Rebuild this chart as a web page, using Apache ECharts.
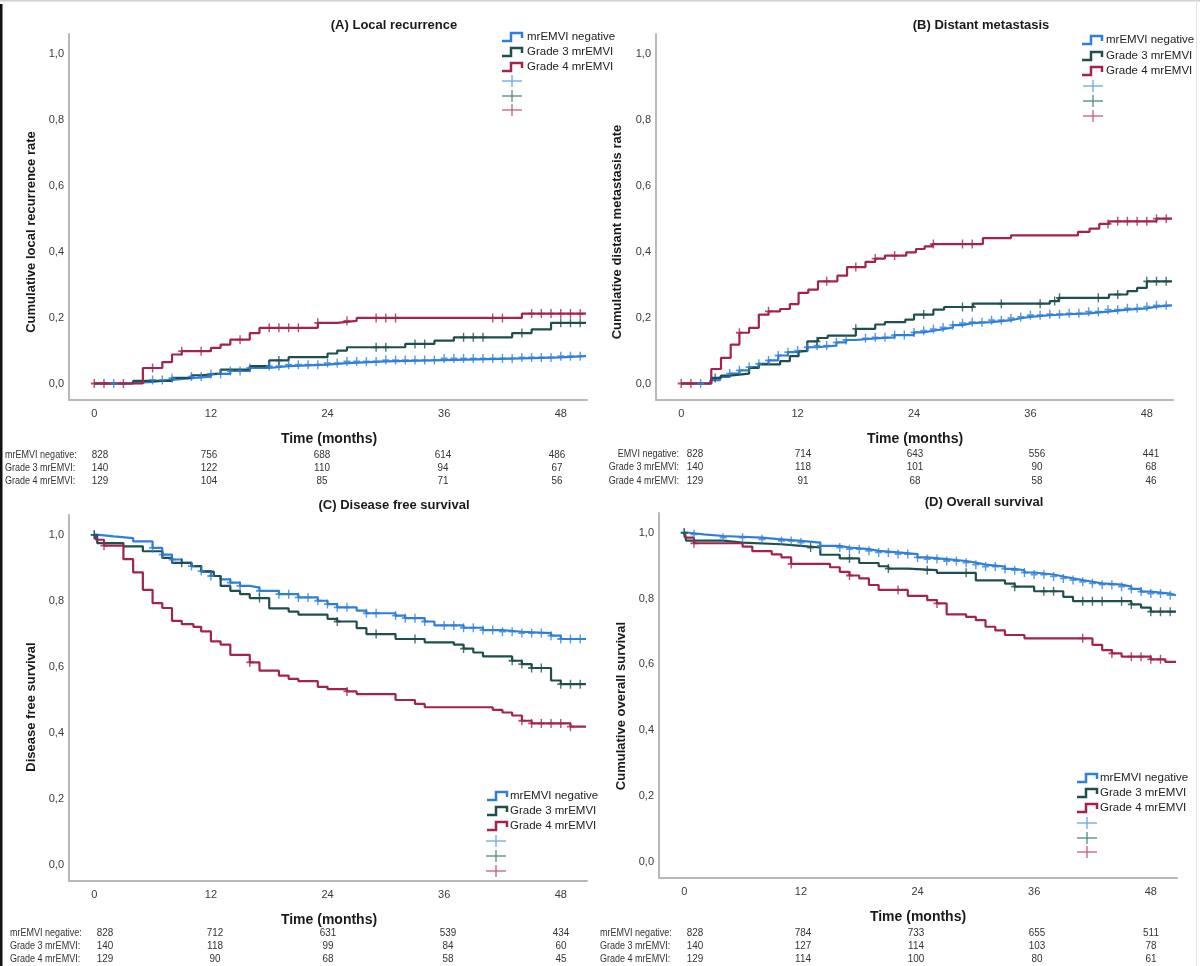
<!DOCTYPE html>
<html><head><meta charset="utf-8">
<script src="https://cdn.jsdelivr.net/npm/echarts@6/dist/echarts.min.js"></script>
<style>html,body{margin:0;padding:0;background:#fff}#c{width:1200px;height:966px}</style>
</head><body><div id="c"></div>
<script>
// ---------- data ----------
const timeTicks = [0, 12, 24, 36, 48];
const yTicks = [0, 0.2, 0.4, 0.6, 0.8, 1.0];
const groupNames = ['mrEMVI negative', 'Grade 3 mrEMVI', 'Grade 4 mrEMVI'];
const riskLabelsFull = ['mrEMVI negative:', 'Grade 3 mrEMVI:', 'Grade 4 mrEMVI:'];
const riskLabelsB = ['EMVI negative:', 'Grade 3 mrEMVI:', 'Grade 4 mrEMVI:'];
const panelTitles = ['(A) Local recurrence', '(B) Distant metastasis', '(C) Disease free survival', '(D) Overall survival'];
const yTitles = ['Cumulative local recurrence rate', 'Cumulative distant metastasis rate', 'Disease free survival', 'Cumulative overall survival'];
const xTitle = 'Time (months)';

// (A) Local recurrence: [month, value] steps
const A_neg = [[0,0],[3.5,0.005],[6,0.011],[8,0.016],[10,0.021],[12,0.029],[14,0.038],[16,0.047],[18,0.053],[20,0.057],[24,0.062],[26,0.067],[30,0.071],[36,0.076],[44,0.079],[48,0.083],[50.6,0.083]];
const A_g3 = [[0,0],[4,0.008],[8,0.017],[10,0.025],[11,0.03],[13,0.042],[16,0.053],[18,0.07],[20,0.08],[24,0.091],[25,0.1],[26,0.11],[32,0.12],[35,0.13],[37,0.14],[43,0.153],[45,0.164],[47,0.184],[50.6,0.184]];
const A_g4 = [[0,0],[5,0.047],[7,0.065],[8,0.088],[9,0.098],[12,0.108],[13,0.118],[14,0.133],[16,0.153],[17,0.169],[23,0.184],[25,0.19],[27,0.199],[44,0.212],[50.6,0.212]];
const A_negCens = [2,6,7,8,10,11,12,13,14,15,16,18,19,20,21,22,23,24,25,26,27,28,29,30,31,32,33,34,35,36,37,38,39,40,41,42,43,44,45,46,47,48,49,50];
const A_g3Cens = [19,29,30,33,34,38,39,40,44,48,49,50];
const A_g4Cens = [0,1,3,6,9,11,15,18,19,20,21,23,26,29,30,31,41,42,45,46,47,48,49,50];
const A_risk = [[828,756,688,614,486],[140,122,110,94,67],[129,104,85,71,56]];

// (B) Distant metastasis
const B_neg = [[0,0],[3,0.01],[4,0.02],[5,0.03],[6,0.04],[7,0.05],[8,0.06],[9,0.07],[10,0.085],[11,0.095],[12,0.1],[13,0.11],[14,0.115],[16,0.125],[17,0.132],[18,0.137],[20,0.14],[22,0.147],[24,0.155],[25,0.16],[26,0.165],[27,0.17],[28,0.177],[29,0.183],[30,0.186],[32,0.192],[34,0.198],[35,0.202],[36,0.207],[38,0.21],[40,0.213],[42,0.218],[44,0.224],[46,0.228],[48,0.233],[49,0.237],[50.6,0.237]];
const B_g3 = [[0,0],[3.1,0.017],[4.1,0.024],[5,0.03],[7,0.047],[8,0.058],[10.2,0.068],[11.2,0.083],[12.1,0.098],[13,0.128],[14.1,0.138],[15.1,0.145],[18,0.166],[20,0.179],[21,0.186],[23.1,0.194],[24,0.209],[26,0.224],[27.1,0.232],[30.1,0.242],[38,0.25],[38.9,0.26],[44.1,0.27],[46,0.28],[47,0.29],[48,0.31],[50.6,0.31]];
const B_g4 = [[0,0],[3.1,0.044],[4.1,0.078],[5.1,0.118],[6,0.154],[7,0.169],[8,0.209],[9,0.219],[10.2,0.226],[11.2,0.241],[12.1,0.275],[13.1,0.285],[14.1,0.31],[16.1,0.327],[17.1,0.353],[19,0.369],[20,0.379],[21,0.388],[23.2,0.398],[24.2,0.408],[25.1,0.416],[25.9,0.423],[31.1,0.441],[34,0.449],[40.9,0.46],[42.1,0.47],[43.1,0.484],[44.1,0.492],[49,0.5],[50.6,0.5]];
const B_negCens = [2,5,6,7,8,9,10,11,12,13,14,15,16,17,19,20,21,22,23,24,25,26,27,28,29,30,31,32,33,34,35,36,37,38,39,40,41,42,43,44,45,46,47,48,49,50];
const B_g3Cens = [3.5,14,18,25,29,30,33,37,38.5,39,43,45,48,49,50];
const B_g4Cens = [0,1,6,9,15,18,20,22,26,29,30,44,45,46,47,48,49,50];
const B_risk = [[828,714,643,556,441],[140,118,101,90,68],[129,91,68,58,46]];

// (C) Disease free survival
const C_neg = [[0,1],[0.5,0.995],[2,0.99],[4,0.98],[6,0.96],[7,0.94],[8,0.925],[9,0.915],[10,0.905],[11,0.89],[12,0.875],[13,0.865],[14,0.855],[15,0.845],[16,0.84],[17,0.83],[19,0.82],[21,0.81],[23,0.8],[24,0.79],[25,0.78],[27,0.77],[28,0.762],[31,0.755],[32,0.747],[34,0.737],[35,0.725],[38,0.718],[40,0.711],[42,0.706],[44,0.702],[47,0.694],[48,0.684],[50.6,0.684]];
const C_g3 = [[0,1],[0.3,0.975],[3,0.965],[5,0.95],[7,0.93],[8,0.915],[10,0.905],[11,0.888],[12.3,0.875],[13,0.845],[14,0.83],[15,0.82],[16,0.808],[18,0.777],[20,0.767],[21,0.758],[24,0.745],[25,0.737],[27,0.717],[28,0.699],[31,0.684],[34,0.674],[37,0.667],[38,0.655],[39,0.643],[40,0.631],[43,0.618],[44,0.608],[45,0.596],[47,0.558],[48,0.547],[50.6,0.547]];
const C_g4 = [[0,1],[0.2,0.985],[1,0.967],[3,0.926],[4,0.886],[5,0.833],[6,0.793],[7,0.778],[8,0.739],[9,0.729],[10.2,0.721],[11,0.707],[12,0.677],[13,0.667],[14,0.636],[16,0.613],[17,0.588],[19,0.573],[20,0.563],[21,0.556],[23,0.539],[24,0.532],[26,0.525],[27,0.517],[31,0.499],[33,0.487],[34,0.477],[41,0.469],[42,0.461],[43,0.452],[44,0.436],[45,0.428],[49,0.418],[50.6,0.418]];
const C_negCens = [0,6,7,8,10,11,12,14,15,17,19,20,21,22,23,24,25,26,28,29,31,32,33,34,36,37,38,39,40,41,42,43,44,45,46,47,48,49,50];
const C_g3Cens = [0,9,17,25,29,33,38,43,44,45,46,48,49,50];
const C_g4Cens = [1,16,26,44,45,46,47,48,49];
const C_risk = [[828,712,631,539,434],[140,118,99,84,60],[129,90,68,58,45]];

// (D) Overall survival
const D_neg = [[0,1],[0.5,0.995],[2,0.99],[4,0.985],[8,0.98],[10,0.975],[12,0.97],[14,0.96],[16,0.955],[17,0.95],[19,0.945],[20,0.94],[22,0.935],[24,0.925],[25,0.92],[27,0.914],[29,0.909],[30,0.903],[31,0.897],[33,0.89],[34,0.886],[35,0.879],[36,0.873],[38,0.867],[39,0.861],[40,0.856],[41,0.851],[42,0.846],[43,0.842],[45,0.836],[46,0.829],[47,0.821],[48,0.815],[50,0.81],[50.6,0.81]];
const D_g3 = [[0,1],[0.2,0.976],[4,0.97],[6,0.965],[10,0.96],[12,0.955],[14,0.933],[16,0.922],[18,0.908],[20,0.898],[21,0.891],[23,0.886],[26,0.878],[30,0.855],[33,0.845],[34,0.836],[36,0.822],[39,0.805],[40,0.792],[46,0.782],[47,0.772],[48,0.76],[50.6,0.76]];
const D_g4 = [[0,1],[0.2,0.985],[1,0.968],[6,0.958],[7,0.944],[9,0.934],[10,0.925],[11,0.905],[15,0.895],[16,0.881],[17,0.87],[18,0.861],[19,0.841],[20,0.826],[23,0.808],[25,0.795],[26,0.785],[27,0.752],[29,0.744],[30,0.734],[31,0.714],[32,0.703],[33,0.689],[35,0.679],[42,0.659],[43,0.643],[44,0.633],[45,0.623],[48,0.615],[49.5,0.607],[50.6,0.607]];
const D_negCens = [0,1,4,6,8,10,11,12,14,16,17,18,19,20,21,22,23,24,25,26,27,28,29,30,31,32,33,34,35,36,37,38,39,40,41,42,43,44,45,46,47,48,49,50];
const D_g3Cens = [0,13,17,21,25,29,34,37,38,41,42,43,45,46,48,49,50];
const D_g4Cens = [1,11,17,22,26,41,44,46,47,48,49];
const D_risk = [[828,784,733,655,511],[140,127,114,103,78],[129,114,100,80,61]];

// ---------- layout / style ----------
const lineColors = ['#2f7fd8', '#1e4f4c', '#a3234f'];
const crossColors = ['#6aa6e8', '#4f8a84', '#c45c7e'];
const FONT = "'Liberation Sans', Arial, sans-serif";
const RFONT = "'Liberation Sans', Arial, sans-serif";

const panels = [
  {steps:[A_neg,A_g3,A_g4], cens:[A_negCens,A_g3Cens,A_g4Cens], risk:A_risk, labels:riskLabelsFull,
   grid:{left:69, top:34, width:518, height:366}, title:[394,25], ytitle:[31,232], xtitle:[329,439],
   legend:{ix:502, tx:527, rows:[37,52,67], cx:512, crows:[81,96,110]},
   risk_lx:5, risk_align:'left', riskX:[100,209,322,443,557], riskY:[455,468,481]},
  {steps:[B_neg,B_g3,B_g4], cens:[B_negCens,B_g3Cens,B_g4Cens], risk:B_risk, labels:riskLabelsB,
   grid:{left:656, top:34, width:517, height:366}, title:[981,25], ytitle:[617,232], xtitle:[915,439],
   legend:{ix:1082, tx:1106, rows:[40,56,71], cx:1093, crows:[86,101,116]},
   risk_lx:679, risk_align:'right', riskX:[695,803,915,1037,1151], riskY:[454,467,481]},
  {steps:[C_neg,C_g3,C_g4], cens:[C_negCens,C_g3Cens,C_g4Cens], risk:C_risk, labels:riskLabelsFull,
   grid:{left:69, top:515, width:518, height:366}, title:[394,505], ytitle:[31,707], xtitle:[329,920],
   legend:{ix:487, tx:510, rows:[796,811,826], cx:496, crows:[841,856,871]},
   risk_lx:10, risk_align:'left', riskX:[105,215,328,448,561], riskY:[933,946,959]},
  {steps:[D_neg,D_g3,D_g4], cens:[D_negCens,D_g3Cens,D_g4Cens], risk:D_risk, labels:riskLabelsFull,
   grid:{left:659, top:513, width:518, height:365}, title:[984,502], ytitle:[621,706], xtitle:[918,917],
   legend:{ix:1077, tx:1100, rows:[778,793,808], cx:1087, crows:[823,838,852]},
   risk_lx:600, risk_align:'left', riskX:[695,803,916,1037,1151], riskY:[933,946,959]}
];

function stepAt(steps, t) {
  let v = steps[0][1];
  for (const [x, y] of steps) { if (x <= t) v = y; else break; }
  return v;
}
const plusPath = 'path://M4,0H6V4H10V6H6V10H4V6H0V4H4Z';

const grids = [], xAxes = [], yAxes = [], series = [], graphics = [];
panels.forEach((p, i) => {
  grids.push(p.grid);
  xAxes.push({type:'value', gridIndex:i, min:-2.6, max:50.7,
    axisLine:{show:true, onZero:false, lineStyle:{color:'#b8b8b8', width:2}}, axisTick:{show:false}, splitLine:{show:false},
    axisLabel:{customValues:timeTicks, margin:8, color:'#3a3a3a', fontSize:11, fontFamily:FONT}});
  yAxes.push({type:'value', gridIndex:i, min:-0.05, max:1.06,
    axisLine:{show:true, onZero:false, lineStyle:{color:'#b8b8b8', width:2}}, axisTick:{show:false}, splitLine:{show:false},
    axisLabel:{customValues:yTicks, margin:5, color:'#3a3a3a', fontSize:11, fontFamily:FONT,
      formatter:v => v.toFixed(1).replace('.', ',')}});
  p.steps.forEach((st, g) => {
    series.push({type:'line', name:groupNames[g], step:'end', xAxisIndex:i, yAxisIndex:i, data:st,
      showSymbol:false, symbol:'none', lineStyle:{color:lineColors[g], width:2.2}, z:2+g, silent:true, animation:false});
    series.push({type:'scatter', xAxisIndex:i, yAxisIndex:i, data:p.cens[g].map(t => [t, stepAt(st, t)]),
      symbol:plusPath, symbolSize:[7,9], itemStyle:{color:lineColors[g]}, z:6, silent:true, animation:false});
  });
  graphics.push({type:'text', x:p.title[0], y:p.title[1], style:{text:panelTitles[i], font:'bold 13px ' + FONT, fill:'#1a1a1a', align:'center', verticalAlign:'middle'}});
  graphics.push({type:'text', x:p.ytitle[0], y:p.ytitle[1], rotation:Math.PI/2, style:{text:yTitles[i], font:'bold 13px ' + FONT, fill:'#1a1a1a', align:'center', verticalAlign:'middle'}});
  graphics.push({type:'text', x:p.xtitle[0], y:p.xtitle[1], style:{text:xTitle, font:'bold 14px ' + FONT, fill:'#1a1a1a', align:'center', verticalAlign:'middle'}});
  const L = p.legend;
  groupNames.forEach((nm, g) => {
    const y = L.rows[g];
    graphics.push({type:'polyline', shape:{points:[[L.ix, y+4],[L.ix+9, y+4],[L.ix+9, y-4],[L.ix+20, y-4],[L.ix+20, y+1]]},
      style:{stroke:lineColors[g], lineWidth:2.5, fill:null}});
    graphics.push({type:'text', x:L.tx, y:y, style:{text:nm, font:'11.5px ' + FONT, fill:'#222', align:'left', verticalAlign:'middle'}});
    const cy = L.crows[g];
    graphics.push({type:'line', shape:{x1:L.cx-10, y1:cy, x2:L.cx+10, y2:cy}, style:{stroke:crossColors[g], lineWidth:1.3}});
    graphics.push({type:'line', shape:{x1:L.cx, y1:cy-6, x2:L.cx, y2:cy+6}, style:{stroke:crossColors[g], lineWidth:1.3}});
  });
  p.risk.forEach((row, g) => {
    const y = p.riskY[g];
    graphics.push({type:'text', x:p.risk_lx, y:y, scaleX:0.82, style:{text:p.labels[g], font:'11px ' + RFONT, fill:'#333', align:p.risk_align, verticalAlign:'middle'}});
    row.forEach((n, k) => {
      graphics.push({type:'text', x:p.riskX[k], y:y, scaleX:0.9, style:{text:String(n), font:'11px ' + RFONT, fill:'#333', align:'center', verticalAlign:'middle'}});
    });
  });
});
graphics.push({type:'rect', shape:{x:0, y:0, width:1200, height:1.5}, style:{fill:'#cfcfcf'}});
graphics.push({type:'rect', shape:{x:0, y:4, width:2.5, height:962}, style:{fill:'#111'}});
graphics.push({type:'rect', shape:{x:1196, y:0, width:1, height:966}, style:{fill:'#e2e2e2'}});

const chart = echarts.init(document.getElementById('c'), null, {renderer:'canvas'});
chart.setOption({backgroundColor:'#fff', animation:false, grid:grids, xAxis:xAxes, yAxis:yAxes, series:series, graphic:graphics});
</script></body></html>
